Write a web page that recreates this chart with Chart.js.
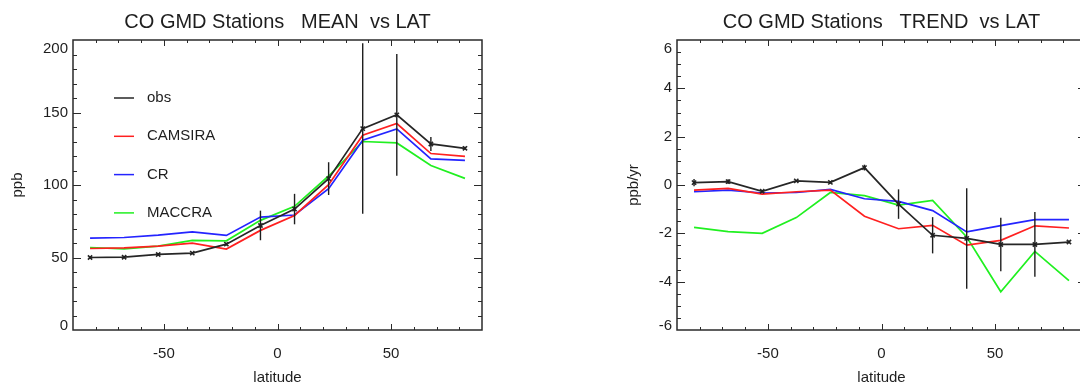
<!DOCTYPE html>
<html>
<head>
<meta charset="utf-8">
<title>CO GMD Stations</title>
<script src="https://cdn.jsdelivr.net/npm/chart.js@4.4.1/dist/chart.umd.min.js"></script>
<style>
  html, body { margin: 0; padding: 0; background: #ffffff; }
  #wrap { position: relative; width: 1080px; height: 387px; overflow: hidden; }
  .panel { position: absolute; top: 0; width: 604px; height: 387px; }
</style>
</head>
<body>
<div id="wrap">
  <div class="panel" style="left:0px"><canvas id="meanChart" width="604" height="387"></canvas></div>
  <div class="panel" style="left:604px"><canvas id="trendChart" width="604" height="387"></canvas></div>
</div>
<script>
// Latitude band centres (degrees)
const latitude = [-82.5, -67.5, -52.5, -37.5, -22.5, -7.5, 7.5, 22.5, 37.5, 52.5, 67.5, 82.5];

// Mean CO mixing ratio (ppb)
const meanObs     = [50.0, 50.2, 52.1, 53.0, 59.2, 72.1, 83.4, 104.4, 138.9, 148.4, 128.3, 125.3];
const meanObsErr  = [0.8, 0.8, 0.8, 0.8, 1.0, 10.2, 10.5, 11.3, 58.8, 42.0, 4.8, 1.0];
const meanCamsira = [56.2, 56.7, 57.8, 59.9, 55.8, 68.7, 79.0, 100.2, 134.3, 142.4, 121.7, 119.8];
const meanCr      = [63.4, 63.8, 65.4, 67.7, 65.2, 77.9, 79.3, 97.5, 130.9, 138.7, 118.0, 117.0];
const meanMaccra  = [56.9, 56.0, 57.8, 61.8, 61.5, 75.6, 85.3, 106.2, 130.0, 129.0, 113.4, 104.6];

// CO trend (ppb/yr)
const trendObs     = [0.10, 0.14, -0.26, 0.17, 0.11, 0.72, -0.79, -2.08, -2.21, -2.46, -2.46, -2.36];
const trendObsErr  = [0.15, 0.10, 0.05, 0.04, 0.05, 0.12, 0.61, 0.75, 2.08, 1.11, 1.34, 0.05];
const trendCamsira = [-0.21, -0.14, -0.38, -0.28, -0.21, -1.29, -1.81, -1.67, -2.49, -2.29, -1.69, -1.78];
const trendCr      = [-0.28, -0.21, -0.33, -0.31, -0.18, -0.57, -0.68, -1.06, -1.94, -1.68, -1.43, -1.43];
const trendMaccra  = [-1.75, -1.93, -2.00, -1.35, -0.31, -0.44, -0.83, -0.64, -2.15, -4.42, -2.75, -3.96];

// Axis ticks
const latTicks   = [-50, 0, 50];
const meanTicks  = [0, 50, 100, 150, 200];
const trendTicks = [-6, -4, -2, 0, 2, 4, 6];

const seriesNames  = ['obs', 'CAMSIRA', 'CR', 'MACCRA'];
const seriesColors = ['#262626', '#ff2020', '#2424ff', '#20f020'];

const FONT = "'Liberation Sans', Arial, Helvetica, sans-serif";
const INK = '#1e1e1e';

function points(values) {
  return latitude.map((x, i) => ({ x: x, y: values[i] }));
}

function buildDatasets(series) {
  return series.map((vals, i) => ({
    label: seriesNames[i],
    data: points(vals),
    borderColor: seriesColors[i],
    backgroundColor: seriesColors[i],
    borderWidth: 1.7,
    pointStyle: i === 0 ? 'crossRot' : 'circle',
    pointRadius: i === 0 ? 3 : 0,
    pointBorderWidth: 1.6,
    pointHoverRadius: 0,
    tension: 0,
    fill: false
  }));
}

// Box frame, inward ticks, y labels, error bars and legend
const framePlugin = {
  id: 'frame',
  afterDatasetsDraw(chart, args, opts) {
    const { ctx, chartArea: a } = chart;
    const xs = chart.scales.x, ys = chart.scales.y;
    ctx.save();
    ctx.beginPath();
    ctx.rect(a.left, a.top, a.right - a.left, a.bottom - a.top);
    ctx.clip();
    ctx.strokeStyle = INK;
    ctx.lineWidth = 1.4;
    opts.errors.forEach((e, i) => {
      const v = opts.centers[i];
      const px = xs.getPixelForValue(latitude[i]);
      ctx.beginPath();
      ctx.moveTo(px, ys.getPixelForValue(v - e));
      ctx.lineTo(px, ys.getPixelForValue(v + e));
      ctx.stroke();
    });
    ctx.restore();
  },
  afterDraw(chart, args, opts) {
    const { ctx, chartArea: a } = chart;
    const xs = chart.scales.x, ys = chart.scales.y;
    ctx.save();

    // frame
    ctx.strokeStyle = '#2a2a2a';
    ctx.lineWidth = 1.5;
    ctx.strokeRect(a.left, a.top, a.right - a.left, a.bottom - a.top);

    // y ticks on left and right axes
    ctx.lineWidth = 1;
    const isMajor = (v, list) => list.some(t => Math.abs(t - v) < 1e-6);
    const yN = Math.round((ys.max - ys.min) / opts.yMinor);
    for (let k = 1; k < yN; k++) {
      const v = ys.min + k * opts.yMinor;
      const py = Math.round(ys.getPixelForValue(v)) + 0.5;
      const len = isMajor(v, opts.yTicks) ? 8 : 4;
      ctx.beginPath();
      ctx.moveTo(a.left, py); ctx.lineTo(a.left + len, py);
      ctx.moveTo(a.right, py); ctx.lineTo(a.right - len, py);
      ctx.stroke();
    }
    // x ticks on bottom and top axes
    const xN = Math.round((xs.max - xs.min) / opts.xMinor);
    for (let k = 1; k < xN; k++) {
      const v = xs.min + k * opts.xMinor;
      const px = Math.round(xs.getPixelForValue(v)) + 0.5;
      const len = isMajor(v, latTicks) ? 6 : 3;
      ctx.beginPath();
      ctx.moveTo(px, a.bottom); ctx.lineTo(px, a.bottom - len);
      ctx.moveTo(px, a.top); ctx.lineTo(px, a.top + len);
      ctx.stroke();
    }

    // y tick labels
    ctx.fillStyle = INK;
    ctx.font = '15px ' + FONT;
    ctx.textAlign = 'right';
    ctx.textBaseline = 'middle';
    opts.yTicks.forEach(v => {
      let py = ys.getPixelForValue(v);
      if (v === ys.max) py += 8.5;
      if (v === ys.min) py -= 4.5;
      ctx.fillText(String(v), a.left - 5, py);
    });

    // legend
    if (opts.legend) {
      const L = opts.legend;
      ctx.textAlign = 'left';
      chart.data.datasets.forEach((ds, i) => {
        const y = L.y + i * L.rowGap;
        ctx.strokeStyle = ds.borderColor;
        ctx.lineWidth = 1.5;
        ctx.beginPath();
        ctx.moveTo(L.x, y); ctx.lineTo(L.x + L.lineLength, y);
        ctx.stroke();
        ctx.fillStyle = INK;
        ctx.fillText(ds.label, L.x + L.lineLength + L.textGap, y);
      });
    }
    ctx.restore();
  }
};

function makePanel(canvasId, titleText, yTitle, yTitlePad, yMin, yMax, yTicks, yMinor, series, obs, obsErr, legend) {
  return new Chart(document.getElementById(canvasId), {
    type: 'line',
    data: { datasets: buildDatasets(series) },
    plugins: [framePlugin],
    options: {
      responsive: false,
      animation: false,
      devicePixelRatio: 1,
      layout: { padding: { left: 0, right: 122, top: 0, bottom: 0 } },
      events: [],
      scales: {
        x: {
          type: 'linear',
          min: -90, max: 90,
          afterFit: s => { s.height = 57; },
          grid: { display: false, drawTicks: false },
          border: { display: false },
          ticks: {
            stepSize: 50,
            autoSkip: false,
            maxRotation: 0,
            padding: 15,
            color: INK,
            font: { family: FONT, size: 15 },
            callback: v => (latTicks.includes(v) ? String(v) : '')
          },
          title: {
            display: true, text: 'latitude', color: INK,
            font: { family: FONT, size: 15 },
            padding: { top: 0, bottom: 0 }
          }
        },
        y: {
          type: 'linear',
          min: yMin, max: yMax,
          afterFit: s => { s.width = 73; },
          grid: { display: false, drawTicks: false },
          border: { display: false },
          ticks: { display: false },
          title: {
            display: true, text: yTitle, color: INK,
            font: { family: FONT, size: 15 },
            padding: { top: yTitlePad, bottom: 0 }
          }
        }
      },
      plugins: {
        legend: { display: false },
        tooltip: { enabled: false },
        title: {
          display: true, text: titleText, color: INK, fullSize: false,
          font: { family: FONT, size: 20, weight: 'normal' },
          padding: { top: 10, bottom: 6 }
        },
        frame: {
          yTicks: yTicks, yMinor: yMinor, xMinor: 10,
          centers: obs, errors: obsErr, legend: legend
        }
      }
    }
  });
}

makePanel('meanChart', 'CO GMD Stations   MEAN  vs LAT', 'ppb', 9, 0, 200, meanTicks, 10,
  [meanObs, meanCamsira, meanCr, meanMaccra], meanObs, meanObsErr,
  { x: 114, y: 98, rowGap: 38.3, lineLength: 20, textGap: 13 });

makePanel('trendChart', 'CO GMD Stations   TREND  vs LAT', 'ppb/yr', 21, -6, 6, trendTicks, 0.5,
  [trendObs, trendCamsira, trendCr, trendMaccra], trendObs, trendObsErr, null);
</script>
</body>
</html>
